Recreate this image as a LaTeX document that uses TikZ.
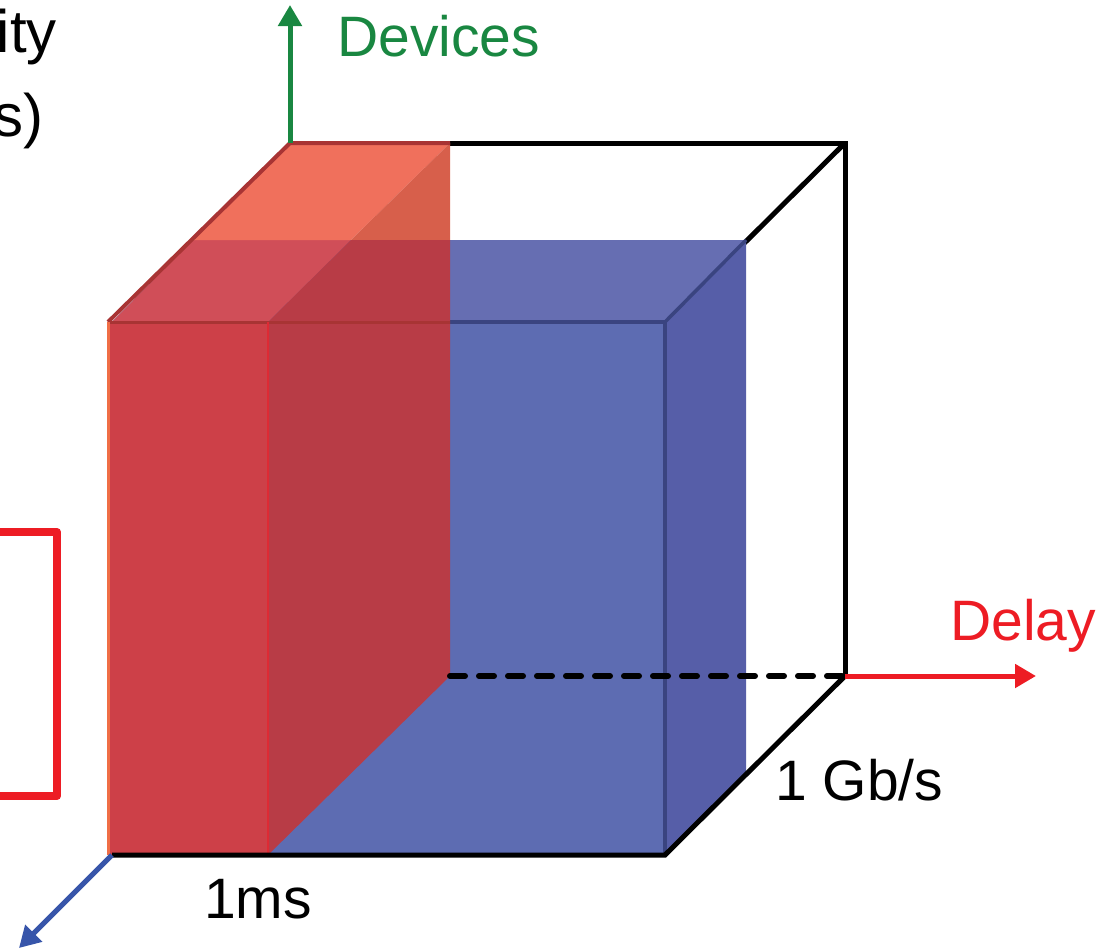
\documentclass[tikz,border=0pt]{standalone}
\usepackage{fontspec}
\setmainfont{Liberation Sans}
\usetikzlibrary{arrows.meta}

\definecolor{axgreen}{RGB}{25,135,65}
\definecolor{axred}{RGB}{237,28,36}
\definecolor{axblue}{RGB}{55,85,170}
\definecolor{bfront}{RGB}{93,108,178}
\definecolor{btop}{RGB}{102,110,178}
\definecolor{bside}{RGB}{86,94,168}
\definecolor{bedge}{RGB}{58,68,128}
\definecolor{rfront}{RGB}{205,64,72}
\definecolor{rsideblue}{RGB}{184,60,70}
\definecolor{rtopblue}{RGB}{208,78,88}
\definecolor{rtop}{RGB}{240,112,92}
\definecolor{rsidewhite}{RGB}{215,95,75}
\definecolor{redge}{RGB}{168,52,52}
\definecolor{rline}{RGB}{222,42,52}
\definecolor{rorange}{RGB}{240,110,70}

\tikzset{
  cubeedge/.style={line width=5pt, black},
  hiddenedge/.style={line width=6pt, black, dash pattern=on 15pt off 14pt, line cap=round},
  axis/.style={line width=5pt, -{Triangle[length=21pt,width=23pt]}},
  lbl/.style={inner sep=0pt, font=\fontsize{57}{62}\selectfont},
  biglbl/.style={inner sep=0pt, font=\fontsize{60}{66}\selectfont},
}

\begin{document}
\begin{tikzpicture}[x=1pt,y=-1pt]
\useasboundingbox (0,0) rectangle (1112,951);

% corners of the outer cube
\coordinate (A) at (112,855);  % front bottom left
\coordinate (B) at (665,855);  % front bottom right
\coordinate (C) at (665,322);  % front top right
\coordinate (D) at (112,322);  % front top left
\coordinate (E) at (845,676);  % back bottom right
\coordinate (F) at (845,143);  % back top right
\coordinate (G) at (290,143);  % back top left
% back corners of the blue box
\coordinate (Btl) at (193,240);
\coordinate (Btr) at (746,240);
\coordinate (Bbr) at (746,773);
% red slab
\coordinate (Sfl) at (108,322);
\coordinate (Sfb) at (108,855);
\coordinate (Stf) at (268,322);
\coordinate (Sbf) at (268,855);
\coordinate (Stb) at (450,143);
\coordinate (Sbb) at (450,676);
\coordinate (Smid) at (351,240);
\coordinate (Sedge) at (450,240);
\coordinate (Sfr) at (450,322);

% hidden cube edge behind the blue box
\draw[cubeedge] (F) -- (C);
\draw[cubeedge] (Stb) -- (F) -- (E);

% blue box
\fill[bfront] (D) rectangle (B);
\fill[btop] (D) -- (C) -- (Btr) -- (Btl) -- cycle;
\fill[bside] (C) -- (Btr) -- (Bbr) -- (B) -- cycle;
\draw[bedge, line width=3.5pt] (C) -- (Btr);
\draw[bedge, line width=3.5pt] (C) -- (B);
\draw[bedge, line width=3.5pt] (Sfr) -- (C);

% red slab
\fill[rfront] (Sfl) rectangle (Sbf);
\fill[rtopblue] (D) -- (Stf) -- (Smid) -- (Btl) -- cycle;
\fill[rtop] (Btl) -- (Smid) -- (Stb) -- (G) -- cycle;
\fill[rsidewhite] (Smid) -- (Stb) -- (Sedge) -- cycle;
\fill[rsideblue] (Stf) -- (Smid) -- (Sedge) -- (Sbb) -- (Sbf) -- cycle;
\draw[redge, line width=4pt, line join=round] (Sfl) -- (G) -- (Stb);
\draw[redge, line width=3pt] (Sfl) -- (Sfr);
\draw[rline, line width=2pt] (Stf) -- (Sbf);
\draw[rorange, line width=3pt] (Sfl) -- (Sfb);

% visible cube edges
\draw[hiddenedge] (Sbb) -- (E);
\draw[cubeedge] (E) -- (B) -- (A);

% axes
\coordinate (Gtip) at (290,5);
\coordinate (Etip) at (1036,676);
\coordinate (Atip) at (19,948);
\draw[axis, axgreen] (G) -- (Gtip);
\draw[axis, axred] (E) -- (Etip);
\draw[axis, axblue] (A) -- (Atip);

% labels
\node[lbl, text=axgreen, anchor=base west] (devices) at (337,56) {Devices};
\node[lbl, text=axred, anchor=base west] (delay) at (950,640) {Delay};
\node[lbl, anchor=base west] (ms) at (204,918) {1ms};
\node[lbl, anchor=base west] (gbs) at (775,800) {1 Gb/s};
\node[biglbl, anchor=base east] (cap1) at (57,52) {ity};
\node[biglbl, anchor=base east] (cap2) at (44,136) {s)};

% red bracket
\coordinate (k1) at (0,532);
\coordinate (k2) at (57,532);
\coordinate (k3) at (57,796);
\coordinate (k4) at (0,796);
\draw[axred, line width=8pt, line join=round] (k1) -- (k2) -- (k3) -- (k4);
\end{tikzpicture}
\end{document}
